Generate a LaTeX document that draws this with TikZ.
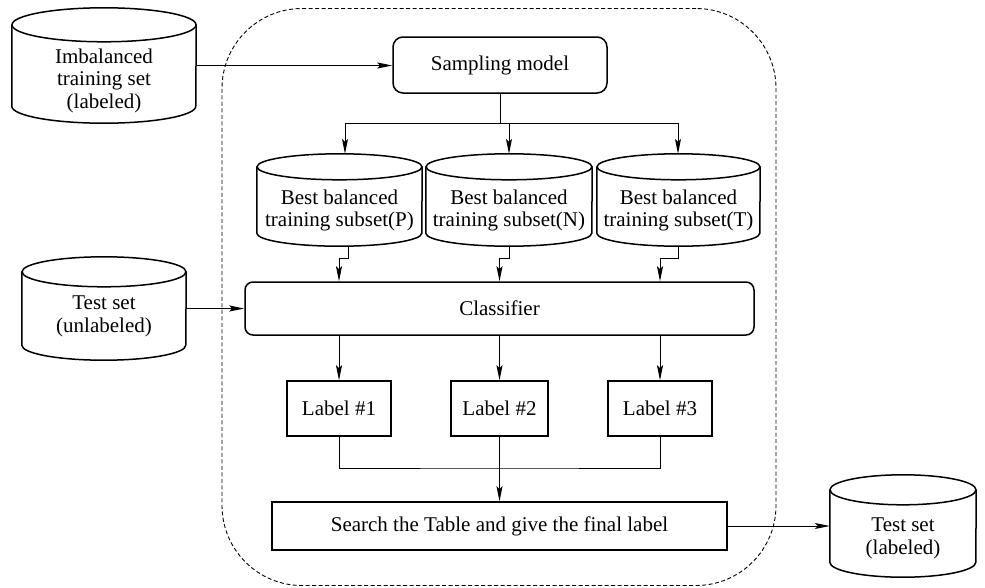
\documentclass[tikz,border=0pt]{standalone}
\usepackage{fontspec}
\setmainfont{Liberation Serif}
\usetikzlibrary{arrows.meta,calc}
\newcommand\myfont{\rmfamily\fontsize{21}{22.5}\selectfont}
\newcommand\mycyl[3]{%
  \draw[cylline] ([yshift=-#3pt]#1.north west) -- ([yshift=#3pt]#1.south west)
     arc[start angle=180,end angle=360,x radius=#2pt,y radius=#3pt]
     -- ([yshift=-#3pt]#1.north east);
  \draw[cylline] ([yshift=-#3pt]#1.north) ellipse [x radius=#2pt,y radius=#3pt];
}
\begin{document}
\begin{tikzpicture}[x=1pt,y=-1pt,
  box/.style={draw, line width=1.5pt, inner sep=0pt, font=\myfont},
  cylbox/.style={inner sep=0pt},
  cyltext/.style={inner sep=0pt, align=center, font=\myfont},
  cylline/.style={line width=1.5pt},
  conn/.style={line width=1pt},
  arr/.style={conn, -{Stealth[length=15pt,width=6pt,inset=3pt]}},
  region/.style={draw, line width=0.9pt, dash pattern=on 4pt off 2.5pt, rounded corners=80pt}
]
\useasboundingbox (0,0) rectangle (985,587);

% dashed region
\node[region, minimum width=554pt, minimum height=577pt] (reg) at (499,297) {};

% boxes
\node[box, rounded corners=10pt, minimum width=214pt, minimum height=56pt] (samp) at (500,65) {Sampling model};
\node[box, rounded corners=8pt, minimum width=509pt, minimum height=53pt] (cls) at (499.5,308.5) {Classifier};
\node[box, minimum width=104pt, minimum height=55pt] (l1) at (339,408.5) {Label \#1};
\node[box, minimum width=97pt, minimum height=55pt] (l2) at (499.5,408.5) {Label \#2};
\node[box, minimum width=104pt, minimum height=55pt] (l3) at (660,408.5) {Label \#3};
\node[box, minimum width=455pt, minimum height=48pt] (search) at (499.5,526) {Search the Table and give the final label};

% cylinders
\node[cylbox, minimum width=184pt, minimum height=115pt] (imb) at (104,65.5) {};
\mycyl{imb}{92}{17}
\node[cyltext] (imbt) at ([yshift=-15pt]imb.center) {Imbalanced\\training set\\(labeled)};

\node[cylbox, minimum width=165pt, minimum height=92pt] (cP) at (339.5,200) {};
\mycyl{cP}{82.5}{13}
\node[cyltext] (cPt) at ([yshift=-10.5pt]cP.center) {Best balanced\\training subset(P)};

\node[cylbox, minimum width=166pt, minimum height=92pt] (cN) at (509,200) {};
\mycyl{cN}{83}{13}
\node[cyltext] (cNt) at ([yshift=-10.5pt]cN.center) {Best balanced\\training subset(N)};

\node[cylbox, minimum width=163pt, minimum height=92pt] (cT) at (678.5,200) {};
\mycyl{cT}{81.5}{13}
\node[cyltext] (cTt) at ([yshift=-10.5pt]cT.center) {Best balanced\\training subset(T)};

\node[cylbox, minimum width=164pt, minimum height=103pt] (tu) at (104,308.5) {};
\mycyl{tu}{82}{15}
\node[cyltext] (tut) at ([yshift=-8pt]tu.center) {Test set\\(unlabeled)};

\node[cylbox, minimum width=146pt, minimum height=102pt] (tl) at (903,526) {};
\mycyl{tl}{73}{15}
\node[cyltext] (tlt) at ([yshift=-12.5pt]tl.center) {Test set\\(labeled)};

% connectors
\draw[arr] (imb.east) -- (imb.east -| samp.west);
\coordinate (a1) at (345,123);
\coordinate (a2) at (509,123);
\coordinate (a3) at (678,123);
\draw[conn] (samp.south) -- (samp.south |- a1);
\draw[conn] (a1) -- (a3);
\draw[arr] (a1) -- (a1 |- cP.north);
\draw[arr] (a2) -- (a2 |- cN.north);
\draw[arr] (a3) -- (a3 |- cT.north);

\draw[arr] ([xshift=8.5pt]cP.south) -- ++(0,12) -| (l1 |- cls.north);
\draw[arr] (cN.south) -- ++(0,12) -| (l2 |- cls.north);
\draw[arr] (cT.south) -- ++(0,12) -| (l3 |- cls.north);

\draw[arr] (tu.east) -- (cls.west);

\draw[arr] (l1 |- cls.south) -- (l1.north);
\draw[arr] (l2 |- cls.south) -- (l2.north);
\draw[arr] (l3 |- cls.south) -- (l3.north);

\coordinate (jn) at (499.5,468);
\draw[conn] (l1.south) |- (jn) -| (l3.south);
\draw[arr] (l2.south) -- (search.north);

\draw[arr] (search.east) -- (tl.west);
\end{tikzpicture}
\end{document}
